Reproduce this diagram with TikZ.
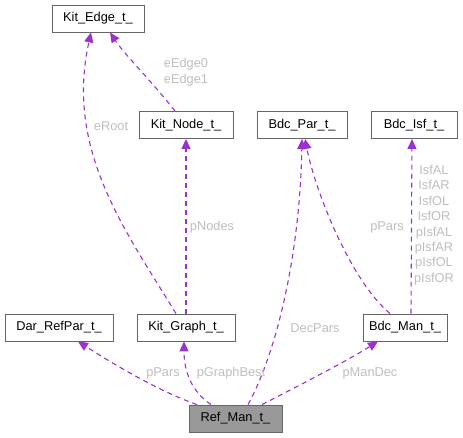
\documentclass[tikz,border=0pt]{standalone}
\usepackage{fontspec}
\setmainfont{Liberation Sans}
\usetikzlibrary{arrows.meta,positioning}
\definecolor{dxedge}{RGB}{154,50,205}
\definecolor{dxlabel}{RGB}{190,190,190}
\definecolor{dxframe}{RGB}{102,102,102}
\definecolor{dxfill}{RGB}{153,153,153}

\begin{document}
\begin{tikzpicture}[
        x=1pt, y=-1pt,
        every node/.style={font=\fontsize{12.8}{15.4}\selectfont},
        cls/.style={draw=dxframe, line width=0.9pt, fill=white, minimum height=27pt, inner sep=0pt},
        focus/.style={cls, fill=dxfill},
        usage/.style={-{Triangle[length=10pt, width=9pt, fill=dxedge]}, draw=dxedge, line width=1.1pt, dash pattern=on 5pt off 4pt},
        lbl/.style={text=dxlabel, align=center, inner sep=0pt}
      ]
      \useasboundingbox (0,0) rectangle (463,437);

      % classes
      \node[cls, minimum width=92pt] (edge) at (98,18.5) {Kit\_Edge\_t\_};
      \node[cls, minimum width=94pt] (knode) at (186,125) {Kit\_Node\_t\_};
      \node[cls, minimum width=90pt] (bpar) at (302,125) {Bdc\_Par\_t\_};
      \node[cls, minimum width=86pt] (bisf) at (414,125) {Bdc\_Isf\_t\_};
      \node[cls, minimum width=108pt] (dar) at (59,327.5) {Dar\_RefPar\_t\_};
      \node[cls, minimum width=98pt] (graph) at (186,327.5) {Kit\_Graph\_t\_};
      \node[cls, minimum width=84pt] (bman) at (405,327.5) {Bdc\_Man\_t\_};
      \node[focus, minimum width=93pt] (rman) at (235.5,418.5) {Ref\_Man\_t\_};

      % Ref_Man_t_ members
      \draw[usage] ([xshift=-38.5pt]rman.north) .. controls (160,392) and (110,362) .. ([xshift=19pt]dar.south);
      \draw[usage] ([xshift=-24.5pt]rman.north) .. controls (192,392) and (184,372) .. ([xshift=-2pt]graph.south);
      \draw[usage] ([xshift=12.5pt]rman.north) .. controls (278,350) and (300,250) .. ([xshift=0pt]bpar.south);
      \draw[usage] ([xshift=26.5pt]rman.north) .. controls (300,385) and (345,362) .. ([xshift=-27pt]bman.south);
      \node[lbl] (lpars) at (163,373) {pPars};
      \node[lbl] (lbest) at (231,373) {pGraphBest};
      \node[lbl] (ldec) at (315,328) {DecPars};
      \node[lbl] (lmdec) at (370,373) {pManDec};

      % Kit_Graph_t_ members
      \draw[usage] (graph.north) -- (knode.south);
      \draw[usage] ([xshift=-10pt]graph.north) .. controls (125,230) and (65,150) .. ([xshift=-7pt]edge.south);
      \node[lbl] (lnodes) at (212,227) {pNodes};
      \node[lbl] (lroot) at (111,126) {eRoot};

      % Kit_Node_t_ members
      \draw[usage] ([xshift=-11pt]knode.north) .. controls (155,85) and (125,55) .. ([xshift=12pt]edge.south);
      \node[lbl] (ledge) at (186,72) {eEdge0\\eEdge1};

      % Bdc_Man_t_ members
      \draw[usage] ([xshift=-15pt]bman.north) .. controls (350,280) and (315,190) .. ([xshift=3pt]bpar.south);
      \draw[usage] ([xshift=6pt]bman.north) -- ([xshift=-2pt]bisf.south);
      \node[lbl] (lbpars) at (387,227) {pPars};
      \node[lbl] (lisf) at (434,225) {IsfAL\\IsfAR\\IsfOL\\IsfOR\\pIsfAL\\pIsfAR\\pIsfOL\\pIsfOR};
    \end{tikzpicture}
\end{document}
